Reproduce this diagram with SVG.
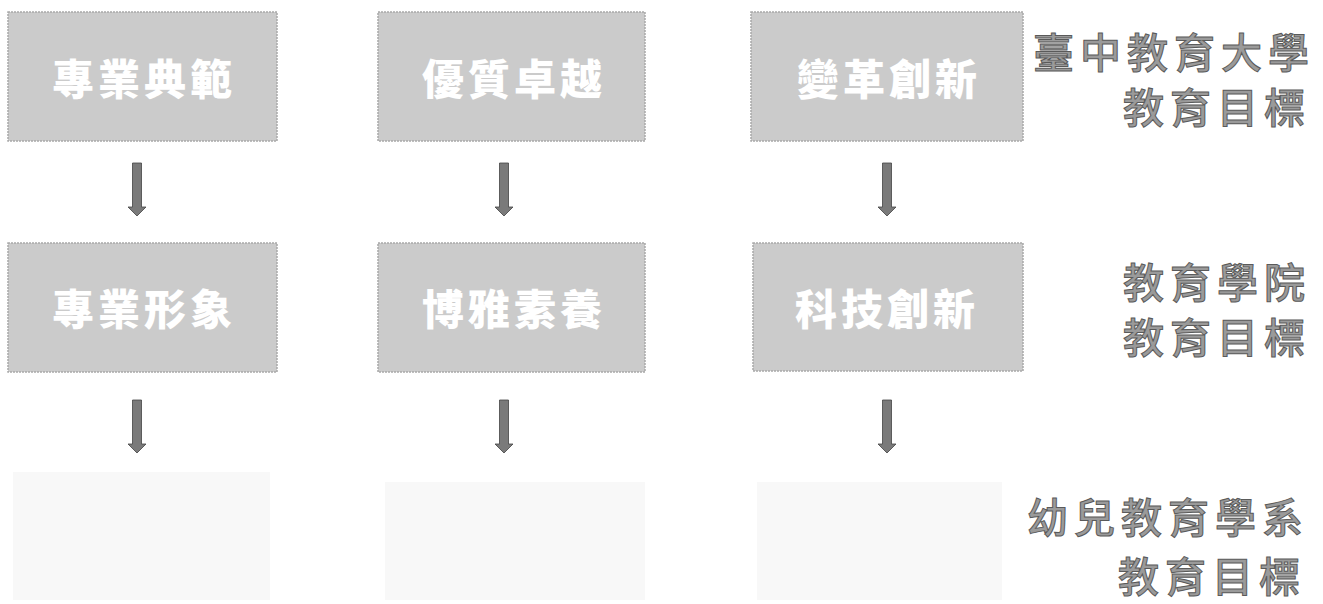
<svg xmlns="http://www.w3.org/2000/svg" width="1323" height="604" viewBox="0 0 1323 604">
<style>
.box{fill:#cbcbcb;stroke:#a9a9a9;stroke-width:1.5;stroke-dasharray:2 1}
.bt{font-family:"Noto Sans CJK TC","Noto Sans CJK SC",sans-serif;font-weight:900;font-size:42px;fill:#ffffff;letter-spacing:4px}
.lb{font-family:"Noto Sans CJK TC","Noto Sans CJK SC",sans-serif;font-weight:500;font-size:41px;fill:#9a9a9a;stroke:#5a5a5a;stroke-width:1;letter-spacing:6px}
.ar{fill:#7a7a7a;stroke:#444;stroke-width:0.8}
.faint{fill:#f8f8f8}
</style>
<defs>
<path id="arrow" d="M-4.5,0 H4.5 V44 H9 L0,53 L-9,44 H-4.5 Z"/>
</defs>
<rect width="1323" height="604" fill="#ffffff"/>
<g id="n1"><rect class="box" x="8" y="12" width="269" height="129"/><text class="bt" x="52" y="95">專業典範</text></g>
<g id="n2"><rect class="box" x="378" y="12" width="267" height="129"/><text class="bt" x="422" y="95">優質卓越</text></g>
<g id="n3"><rect class="box" x="751" y="12" width="272" height="129"/><text class="bt" x="797" y="95">變革創新</text></g>
<g id="n4"><rect class="box" x="8" y="243" width="269" height="129"/><text class="bt" x="52" y="325">專業形象</text></g>
<g id="n5"><rect class="box" x="378" y="243" width="267" height="129"/><text class="bt" x="422" y="325">博雅素養</text></g>
<g id="n6"><rect class="box" x="753" y="243" width="270" height="128"/><text class="bt" x="795" y="325">科技創新</text></g>
<g id="n7"><rect class="faint" x="13" y="472" width="257" height="128"/></g>
<g id="n8"><rect class="faint" x="385" y="482" width="260" height="118"/></g>
<g id="n9"><rect class="faint" x="757" y="482" width="245" height="118"/></g>
<g id="l1"><text class="lb" x="1033" y="68">臺中教育大學</text><text class="lb" x="1123" y="123">教育目標</text></g>
<g id="l2"><text class="lb" x="1123" y="298">教育學院</text><text class="lb" x="1123" y="353">教育目標</text></g>
<g id="l3"><text class="lb" x="1027" y="533">幼兒教育學系</text><text class="lb" x="1118" y="592">教育目標</text></g>
<g id="connectors">
<use href="#arrow" class="ar" x="137" y="163"/>
<use href="#arrow" class="ar" x="504" y="163"/>
<use href="#arrow" class="ar" x="887" y="163"/>
<use href="#arrow" class="ar" x="137" y="400"/>
<use href="#arrow" class="ar" x="504" y="400"/>
<use href="#arrow" class="ar" x="887" y="400"/>
</g>
</svg>
